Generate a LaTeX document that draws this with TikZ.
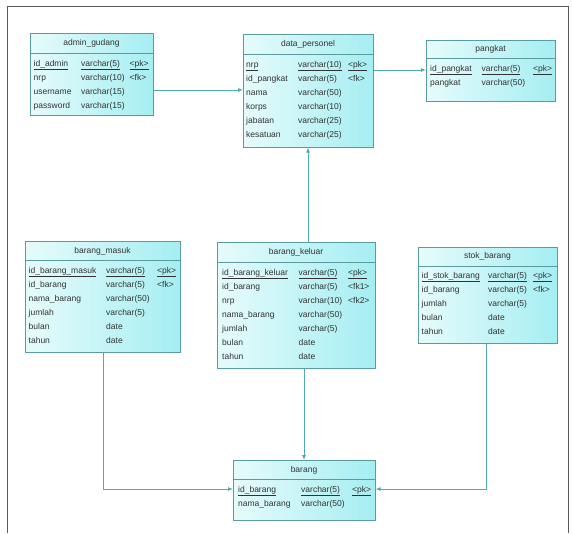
\documentclass[tikz,border=0pt]{standalone}
\usepackage{fontspec}
\setmainfont{Liberation Sans}
\usetikzlibrary{arrows.meta}
\definecolor{erline}{RGB}{90,155,160}
\definecolor{erlink}{RGB}{80,172,172}
\definecolor{erlight}{RGB}{230,251,251}
\definecolor{erdark}{RGB}{165,238,242}
\definecolor{ertext}{RGB}{50,50,50}
\definecolor{frame}{RGB}{90,90,90}

\begin{document}
\begin{tikzpicture}[x=1pt, y=-1pt,
  tbl/.style={draw=erline, line width=0.6pt, inner sep=0pt, anchor=north west, left color=erlight, right color=erdark},
  sep/.style={draw=erline, line width=0.6pt},
  ttl/.style={text=ertext, font=\fontsize{8.5}{9}\selectfont, inner sep=0pt},
  rows/.style={text=ertext, font=\fontsize{8.5}{14}\selectfont, inner sep=0pt, anchor=north west},
  fk/.style={draw=erlink, line width=0.8pt, -{Latex[length=5pt,width=4pt]}}]
\useasboundingbox (0,0) rectangle (572,533);
\draw[frame, line width=1pt] (7,533) -- (7,6) -- (568,6) -- (568,533);

% tables
\node[tbl, minimum width=123pt, minimum height=82pt] (ag) at (30,33) {};
\draw[sep] (ag.west |- 0,53) -- (ag.east |- 0,53);
\node[ttl] (agt) at (91.5,43) {admin\_gudang};
\node[rows] (agr) at (33.5,56) {\begin{tabular}{@{}p{47.5pt}@{}p{48.5pt}@{}l@{}}
\underline{id\_admin} & \underline{varchar(5)} & \underline{<pk>}\\
nrp & varchar(10) & <fk>\\
username & varchar(15) & \\
password & varchar(15) & \end{tabular}};

\node[tbl, minimum width=130pt, minimum height=113pt] (dp) at (243,34) {};
\draw[sep] (dp.west |- 0,54) -- (dp.east |- 0,54);
\node[ttl] (dpt) at (308,44) {data\_personel};
\node[rows] (dpr) at (246,57) {\begin{tabular}{@{}p{52pt}@{}p{50pt}@{}l@{}}
\underline{nrp} & \underline{varchar(10)} & \underline{<pk>}\\
id\_pangkat & varchar(5) & <fk>\\
nama & varchar(50) & \\
korps & varchar(10) & \\
jabatan & varchar(25) & \\
kesatuan & varchar(25) & \end{tabular}};

\node[tbl, minimum width=129pt, minimum height=61pt] (pk) at (426,40) {};
\draw[sep] (pk.west |- 0,58) -- (pk.east |- 0,58);
\node[ttl] (pkt) at (490.5,49) {pangkat};
\node[rows] (pkr) at (430,61) {\begin{tabular}{@{}p{51.5pt}@{}p{51.5pt}@{}l@{}}
\underline{id\_pangkat} & \underline{varchar(5)} & \underline{<pk>}\\
pangkat & varchar(50) & \end{tabular}};

\node[tbl, minimum width=155pt, minimum height=111pt] (bm) at (25,241) {};
\draw[sep] (bm.west |- 0,260) -- (bm.east |- 0,260);
\node[ttl] (bmt) at (102.5,251) {barang\_masuk};
\node[rows] (bmr) at (28.5,263) {\begin{tabular}{@{}p{77.5pt}@{}p{51pt}@{}l@{}}
\underline{id\_barang\_masuk} & \underline{varchar(5)} & \underline{<pk>}\\
id\_barang & varchar(5) & <fk>\\
nama\_barang & varchar(50) & \\
jumlah & varchar(5) & \\
bulan & date & \\
tahun & date & \end{tabular}};

\node[tbl, minimum width=158pt, minimum height=126pt] (bk) at (217,242) {};
\draw[sep] (bk.west |- 0,262) -- (bk.east |- 0,262);
\node[ttl] (bkt) at (296,252) {barang\_keluar};
\node[rows] (bkr) at (222,265) {\begin{tabular}{@{}p{76.5pt}@{}p{49.5pt}@{}l@{}}
\underline{id\_barang\_keluar} & \underline{varchar(5)} & \underline{<pk>}\\
id\_barang & varchar(5) & <fk1>\\
nrp & varchar(10) & <fk2>\\
nama\_barang & varchar(50) & \\
jumlah & varchar(5) & \\
bulan & date & \\
tahun & date & \end{tabular}};

\node[tbl, minimum width=139pt, minimum height=96pt] (sb) at (418,247) {};
\draw[sep] (sb.west |- 0,266) -- (sb.east |- 0,266);
\node[ttl] (sbt) at (487.5,256) {stok\_barang};
\node[rows] (sbr) at (421.5,268) {\begin{tabular}{@{}p{66.5pt}@{}p{45pt}@{}l@{}}
\underline{id\_stok\_barang} & \underline{varchar(5)} & \underline{<pk>}\\
id\_barang & varchar(5) & <fk>\\
jumlah & varchar(5) & \\
bulan & date & \\
tahun & date & \end{tabular}};

\node[tbl, minimum width=142pt, minimum height=60pt] (br) at (233,460) {};
\draw[sep] (br.west |- 0,479) -- (br.east |- 0,479);
\node[ttl] (brt) at (304,470) {barang};
\node[rows] (brr) at (238,482) {\begin{tabular}{@{}p{63pt}@{}p{51pt}@{}l@{}}
\underline{id\_barang} & \underline{varchar(5)} & \underline{<pk>}\\
nama\_barang & varchar(50) & \end{tabular}};

% references
\draw[fk] (ag.east |- 0,90) -- (dp.west |- 0,90);
\draw[fk] (dp.east |- 0,70) -- (pk.west |- 0,70);
\draw[fk] (bk.north -| 308,0) -- (dp.south -| 308,0);
\draw[fk] (bk.south -| 304,0) -- (br.north -| 304,0);
\draw[fk] (bm.south -| 103,0) |- (br.west |- 0,489);
\draw[fk] (sb.south -| 486,0) |- (br.east |- 0,489);
\end{tikzpicture}
\end{document}
